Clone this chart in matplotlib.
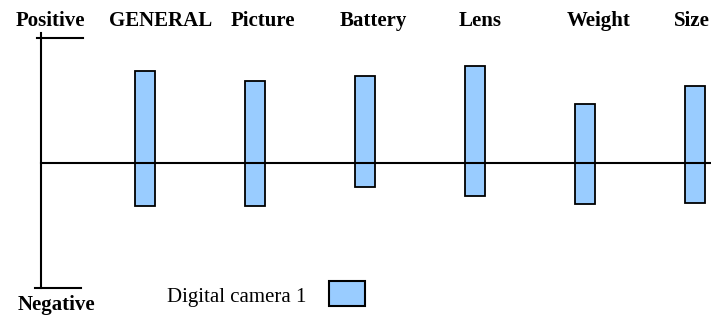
import matplotlib.pyplot as plt

# ── data ──────────────────────────────────────────────
categories = ['GENERAL', 'Picture', 'Battery', 'Lens', 'Weight', 'Size']
positive = [0.74, 0.66, 0.70, 0.78, 0.47, 0.62]
negative = [-0.34, -0.34, -0.19, -0.26, -0.33, -0.32]
series_name = 'Digital camera 1'

bar_color = '#99CCFF'
serif = ['Liberation Serif', 'DejaVu Serif']

W, H = 711, 317
fig = plt.figure(figsize=(W / 100, H / 100), dpi=100)
ax = fig.add_axes([0, 0, 1, 1])
ax.set_axis_off()

# pixel layout: bar i centred at 145 + 110*i px, zero line at y=163 px, 125 px per unit
ax.set_xlim(-145 / 110, (W - 145) / 110)
ax.set_ylim((163 - H) / 125, 163 / 125)

xs = list(range(len(categories)))
heights = [p - n for p, n in zip(positive, negative)]
ax.bar(xs, heights, bottom=negative, width=0.175, color=bar_color,
       edgecolor='black', linewidth=1.3, zorder=3)

# axes drawn by hand
x_axis = -0.95
ax.plot([x_axis, x_axis], [-1.0, 1.04], color='black', lw=1.5, zorder=2)
ax.plot([-0.98, -0.56], [1.0, 1.0], color='black', lw=1.5)
ax.plot([-1.0, -0.58], [-1.0, -1.0], color='black', lw=1.5)
ax.plot([x_axis, 6], [0, 0], color='black', lw=1.5, zorder=4)

# labels (figure pixel positions)
def px(x, y):
    return x / W, 1 - y / H

label_x = [161, 263, 373, 480, 599, 692]
for name, lx in zip(categories, label_x):
    fig.text(*px(lx, 26), name, ha='center', va='baseline', fontsize=15,
             fontweight='bold', family=serif)
fig.text(*px(50, 26), 'Positive', ha='center', va='baseline', fontsize=15,
         fontweight='bold', family=serif)
fig.text(*px(56, 310), 'Negative', ha='center', va='baseline', fontsize=15,
         fontweight='bold', family=serif)

# legend
fig.text(*px(167, 302), series_name, ha='left', va='baseline', fontsize=15,
         family=serif)
lx0, ly0 = px(329, 306)
lx1, ly1 = px(365, 281)
fig.patches.append(plt.Rectangle((lx0, ly0), lx1 - lx0, ly1 - ly0,
                                 transform=fig.transFigure, facecolor=bar_color,
                                 edgecolor='black', linewidth=1.5))

fig.savefig('out.png', dpi=100)
